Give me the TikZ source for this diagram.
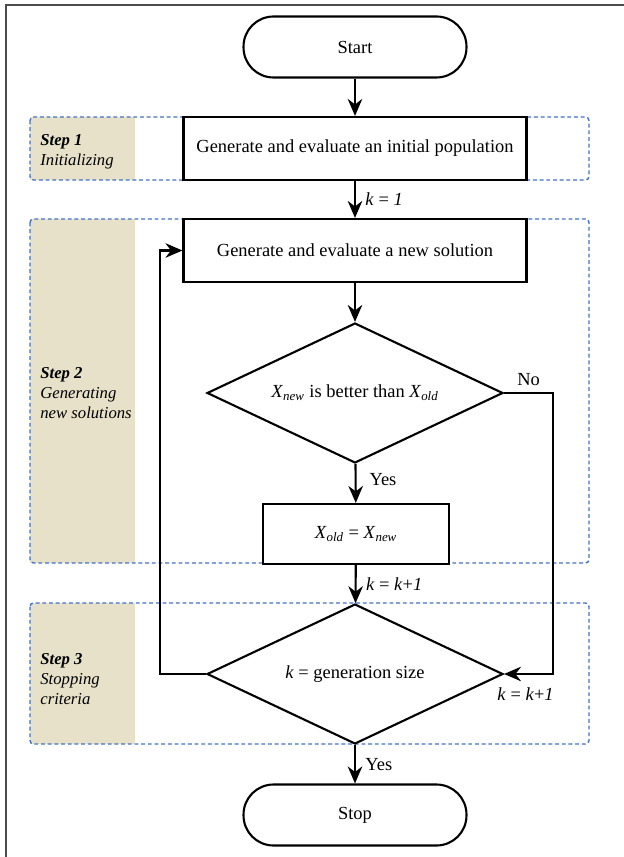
\documentclass[tikz,border=0pt]{standalone}
\usepackage{fontspec}
\setmainfont{Liberation Serif}
\usetikzlibrary{shapes.geometric,arrows.meta}
\definecolor{stepblue}{RGB}{68,114,196}
\definecolor{stepbeige}{RGB}{230,225,200}

\begin{document}
\begin{tikzpicture}[x=0.02cm,y=-0.02cm,>={Stealth[length=3.4mm,width=2.9mm]}]
        \tikzstyle{terminal}=[draw=black,line width=1.2pt,fill=white,rounded corners=0.6cm,minimum width=4.46cm,minimum height=1.22cm,font=\fontsize{10.5}{12.6}\selectfont]
        \tikzstyle{process}=[draw=black,line width=1.2pt,fill=white,minimum width=6.86cm,minimum height=1.26cm,font=\fontsize{10.5}{12.6}\selectfont]
        \tikzstyle{decision}=[diamond,draw=black,line width=1.2pt,fill=white,minimum width=5.92cm,minimum height=2.8cm,inner sep=0pt,font=\fontsize{10.5}{12.6}\selectfont]
        \tikzstyle{stepframe}=[draw=stepblue,dashed,dash pattern=on 2.2pt off 1.6pt,line width=0.8pt,rounded corners=2pt]
        \tikzstyle{steptext}=[anchor=west,align=left,inner sep=0pt,font=\fontsize{9.5}{11.4}\selectfont]
        \tikzstyle{edge}=[draw=black,line width=1.2pt]
        \tikzstyle{flowlabel}=[font=\fontsize{10.5}{12.6}\selectfont]

        \useasboundingbox (0,0) rectangle (624,857);
        \draw[black!70,line width=1pt] (6,857) -- (6,5) -- (624,5);

        % step panels
        \fill[stepbeige] (30,117) rectangle (135,180);
        \fill[stepbeige] (30,219) rectangle (135,563);
        \fill[stepbeige] (30,603) rectangle (135,744);
        \draw[stepframe] (30,117) rectangle (589,180);
        \draw[stepframe] (30,219) rectangle (589,563);
        \draw[stepframe] (30,603) rectangle (589,744);

        \node [steptext] (s1) at (40,152) {\textbf{\textit{Step 1}}\\\textit{Initializing}};
        \node [steptext] (s2) at (40,393) {\textbf{\textit{Step 2}}\\\textit{Generating}\\\textit{new solutions}};
        \node [steptext] (s3) at (40,679) {\textbf{\textit{Step 3}}\\\textit{Stopping}\\\textit{criteria}};

        % flow
        \node [terminal] (start) at (355,47) {Start};
        \node [process] (init) at (355,148.5) {Generate and evaluate an initial population};
        \node [process] (gen) at (355,250.5) {Generate and evaluate a new solution};
        \node [decision] (cmp) at (355,393) {\makebox[0pt]{\textit{X}\textsubscript{\textit{new}} is better than \textit{X}\textsubscript{\textit{old}}}};
        \node [process,minimum width=3.72cm,minimum height=1.2cm] (upd) at (356,534) {\textit{X}\textsubscript{\textit{old}} = \textit{X}\textsubscript{\textit{new}}};
        \node [decision] (chk) at (355,674) {\makebox[0pt]{\textit{k} = generation size}};
        \node [terminal] (stop) at (355,815) {Stop};

        \coordinate (noturn) at (553,393);
        \coordinate (loopturn) at (160,674);

        \path[edge,->] (start) edge (init);
        \path[edge,->] (init) edge node[flowlabel,right,xshift=2pt]{\textit{k} = \textit{1}} (gen);
        \path[edge,->] (gen) edge (cmp);
        \path[edge,->] (cmp) edge node[flowlabel,right,pos=0.4,xshift=4pt]{Yes} (upd);
        \path[edge,->] (upd) edge node[flowlabel,right,xshift=2pt]{\textit{k} = \textit{k}+\textit{1}} (chk);
        \path[edge,->] (chk) edge node[flowlabel,right,xshift=2pt]{Yes} (stop);
        \draw[edge,->] (cmp.east) -- node[flowlabel,above]{No} (noturn) |- node[flowlabel,below,pos=0.78,yshift=-4pt]{\textit{k} = \textit{k}+\textit{1}} (chk.east);
        \draw[edge,->] (chk.west) -- (loopturn) |- (gen.west);
\end{tikzpicture}
\end{document}
